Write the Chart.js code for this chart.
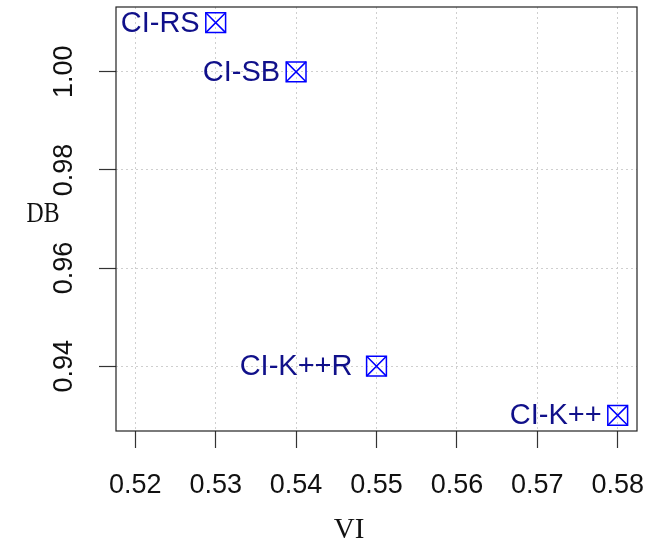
<!DOCTYPE html>
<html>
<head>
<meta charset="utf-8">
<script src="https://cdn.jsdelivr.net/npm/chart.js@4"></script>
<style>
html, body { margin: 0; padding: 0; background: #fff; }
</style>
</head>
<body>
<canvas id="plot" width="646" height="546"></canvas>
<script>
// methods compared, VI on x, DB on y
const methods = ['CI-RS', 'CI-SB', 'CI-K++R ', 'CI-K++'];
const viValues = [0.53, 0.54, 0.55, 0.58];
const dbValues = [1.01, 1.00, 0.94, 0.93];

const xTicks = [0.52, 0.53, 0.54, 0.55, 0.56, 0.57, 0.58];
const yTicks = [0.94, 0.96, 0.98, 1.00];
const xRange = [0.5176, 0.5824];
const yRange = [0.9268, 1.0132];

const points = viValues.map((v, i) => ({ x: v, y: dbValues[i] }));

const labelFont = '29px "Liberation Sans", Arial, sans-serif';
const tickFont = { family: '"Liberation Sans", Arial, sans-serif', size: 27 };

// box, point labels, rotated y tick labels and axis titles
const decorations = {
    id: 'decorations',
    afterDatasetsDraw(chart) {
        const ctx = chart.ctx;
        const area = chart.chartArea;
        ctx.save();
        ctx.strokeStyle = '#222';
        ctx.lineWidth = 1.2;
        ctx.strokeRect(area.left, area.top, area.right - area.left, area.bottom - area.top);

        ctx.fillStyle = '#10108a';
        ctx.font = labelFont;
        ctx.textAlign = 'right';
        ctx.textBaseline = 'middle';
        chart.getDatasetMeta(0).data.forEach((pt, i) => {
            ctx.fillText(methods[i], pt.x - 16, pt.y + 1);
        });

        const yScale = chart.scales.y;
        ctx.fillStyle = '#111';
        ctx.font = '27px "Liberation Sans", Arial, sans-serif';
        ctx.textAlign = 'center';
        yTicks.forEach(v => {
            const py = yScale.getPixelForValue(v);
            ctx.save();
            ctx.translate(65, py);
            ctx.rotate(-Math.PI / 2);
            ctx.fillText(v.toFixed(2), 0, 0);
            ctx.restore();
        });

        ctx.font = '29px "Liberation Serif", "Times New Roman", serif';
        ctx.save();
        ctx.translate(43, 214);
        ctx.scale(0.82, 1);
        ctx.fillText('DB', 0, 0);
        ctx.restore();
        ctx.fillText('VI', 349, 530);
        ctx.restore();
    }
};

const gridOpts = {
    color: '#cfcfcf', lineWidth: 1,
    drawTicks: true, tickLength: 17, tickColor: '#333', tickBorderDash: [], tickWidth: 1.2
};

new Chart(document.getElementById('plot'), {
    type: 'scatter',
    data: {
        datasets: [
            { data: points, pointStyle: 'rect', radius: 14, borderColor: '#0000ff', backgroundColor: 'rgba(0,0,0,0)', borderWidth: 1.5 },
            { data: points, pointStyle: 'crossRot', radius: 14, borderColor: '#0000ff', borderWidth: 1.5 }
        ]
    },
    options: {
        responsive: false,
        animation: false,
        events: [],
        clip: false,
        layout: { autoPadding: false, padding: { top: 7, right: 9, left: 0, bottom: 0 } },
        plugins: { legend: { display: false }, tooltip: { enabled: false } },
        scales: {
            x: {
                type: 'linear',
                min: xRange[0],
                max: xRange[1],
                afterBuildTicks: s => { s.ticks = xTicks.map(v => ({ value: v })); },
                afterFit: s => { s.height = 115; s.paddingLeft = 0; s.paddingRight = 0; },
                border: { display: false, dash: [2, 3] },
                grid: gridOpts,
                ticks: {
                    color: '#111', font: tickFont, padding: 21, maxRotation: 0, minRotation: 0,
                    callback: v => v.toFixed(2)
                }
            },
            y: {
                type: 'linear',
                min: yRange[0],
                max: yRange[1],
                afterBuildTicks: s => { s.ticks = yTicks.map(v => ({ value: v })); },
                afterFit: s => { s.width = 116; s.paddingTop = 0; s.paddingBottom = 0; },
                border: { display: false, dash: [2, 3] },
                grid: gridOpts,
                ticks: { display: false }
            }
        }
    },
    plugins: [decorations]
});
</script>
</body>
</html>
